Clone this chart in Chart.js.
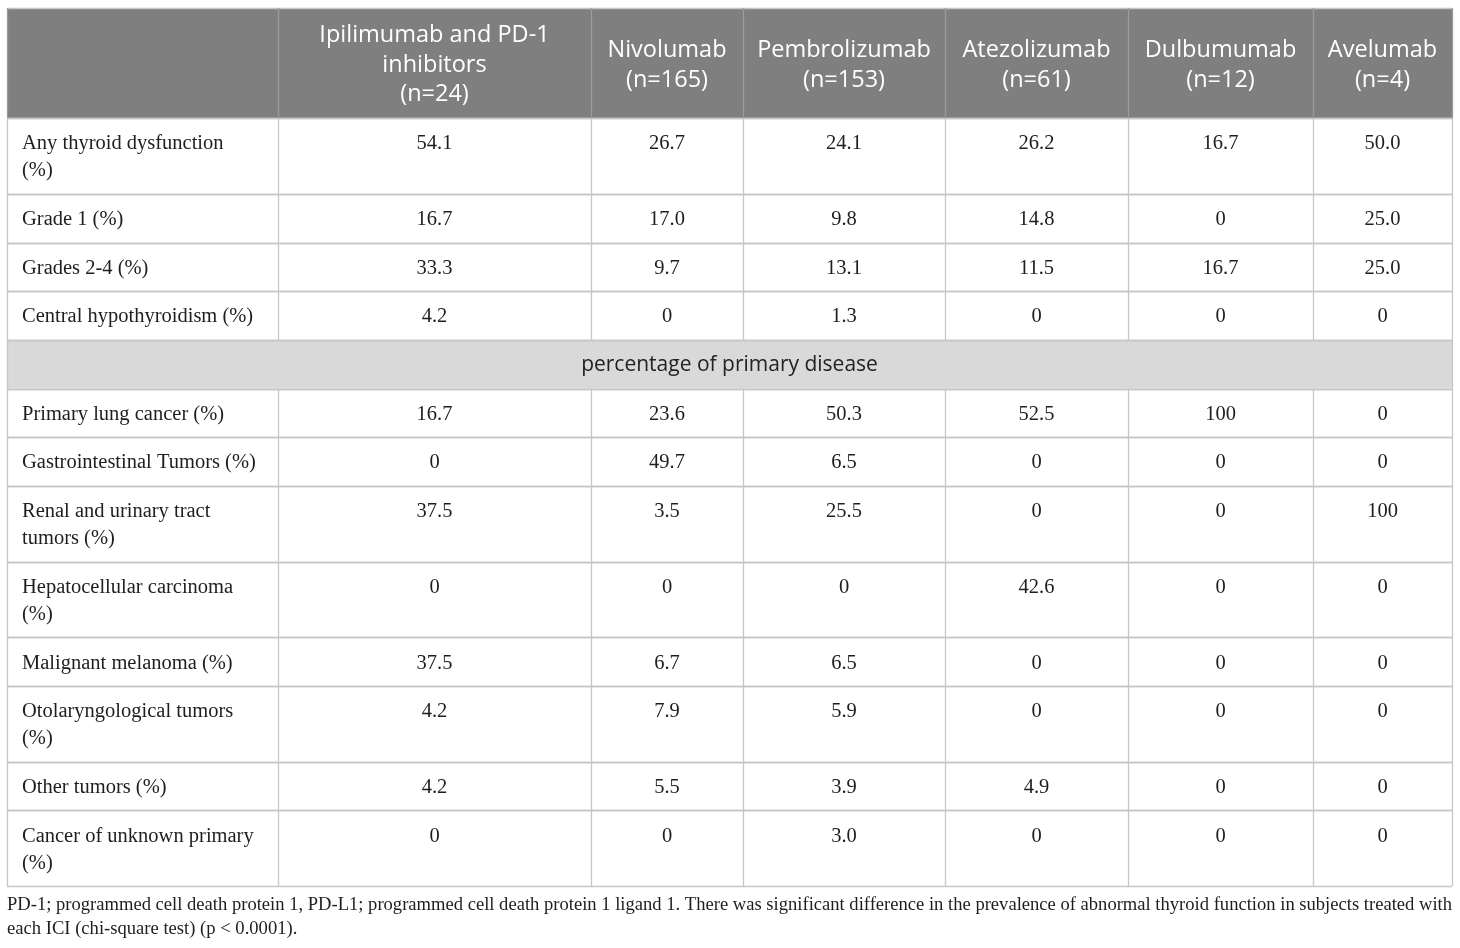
<!DOCTYPE html>
<html>
<head>
<meta charset="utf-8">
<script src="https://cdn.jsdelivr.net/npm/chart.js@4/dist/chart.umd.min.js"></script>
<style>
  html, body { margin: 0; padding: 0; background: #fff; }
  #wrap { width: 1460px; height: 948px; position: relative; }
</style>
</head>
<body>
<div id="wrap"><canvas id="tbl"></canvas></div>
<script>
// 表头（每列药物）
const COLUMNS = [
  '',
  'Ipilimumab and PD-1\ninhibitors\n(n=24)',
  'Nivolumab\n(n=165)',
  'Pembrolizumab\n(n=153)',
  'Atezolizumab\n(n=61)',
  'Dulbumumab\n(n=12)',
  'Avelumab\n(n=4)'
];

// 行标签
const THYROID_ROWS = [
  'Any thyroid dysfunction\n(%)',
  'Grade 1 (%)',
  'Grades 2-4 (%)',
  'Central hypothyroidism (%)'
];
const SECTION_TITLE = 'percentage of primary disease';
const DISEASE_ROWS = [
  'Primary lung cancer (%)',
  'Gastrointestinal Tumors (%)',
  'Renal and urinary tract\ntumors (%)',
  'Hepatocellular carcinoma\n(%)',
  'Malignant melanoma (%)',
  'Otolaryngological tumors\n(%)',
  'Other tumors (%)',
  'Cancer of unknown primary\n(%)'
];

// 各药物数值（前4项甲状腺，后8项原发病）
const IPI_PD1 = [54.1, 16.7, 33.3, 4.2, 16.7, 0, 37.5, 0, 37.5, 4.2, 4.2, 0];
const NIVOLUMAB = [26.7, 17.0, 9.7, 0, 23.6, 49.7, 3.5, 0, 6.7, 7.9, 5.5, 0];
const PEMBROLIZUMAB = [24.1, 9.8, 13.1, 1.3, 50.3, 6.5, 25.5, 0, 6.5, 5.9, 3.9, 3.0];
const ATEZOLIZUMAB = [26.2, 14.8, 11.5, 0, 52.5, 0, 0, 42.6, 0, 0, 4.9, 0];
const DULBUMUMAB = [16.7, 0, 16.7, 0, 100, 0, 0, 0, 0, 0, 0, 0];
const AVELUMAB = [50.0, 25.0, 25.0, 0, 0, 0, 100, 0, 0, 0, 0, 0];
const SERIES = [IPI_PD1, NIVOLUMAB, PEMBROLIZUMAB, ATEZOLIZUMAB, DULBUMUMAB, AVELUMAB];

const FOOTNOTE = [
  'PD-1; programmed cell death protein 1, PD-L1; programmed cell death protein 1 ligand 1. There was significant difference in the prevalence of abnormal thyroid function in subjects treated with',
  'each ICI (chi-square test) (p < 0.0001).'
];

// 样式
const COL_WIDTHS = [271, 313, 152, 202, 183, 185, 139];
const PAD = 21.6, BODY_LH = 27, HEAD_LH = 29.5;
const HEAD_FONT = '23.5px "Open Sans"';
const SECTION_FONT = '21px "Open Sans"';
const BODY_FONT = '20.5px "Liberation Serif"';
const FOOT_FONT = '18.6px "Liberation Serif"';

const fmt = v => (v === 0 || v === 100) ? String(v) : v.toFixed(1);
const nLines = s => s.split('\n').length;

// 行布局：表头、甲状腺行、分节行、原发病行
const rows = [{ type: 'head', h: PAD + HEAD_LH * 3 }];
THYROID_ROWS.forEach((t, i) => rows.push({ type: 'body', label: t, idx: i, h: PAD + BODY_LH * nLines(t) }));
rows.push({ type: 'section', label: SECTION_TITLE, h: PAD + BODY_LH });
DISEASE_ROWS.forEach((t, i) => rows.push({ type: 'body', label: t, idx: THYROID_ROWS.length + i, h: PAD + BODY_LH * nLines(t) }));
let acc = 0;
rows.forEach(r => { r.top = acc; acc += r.h; r.bottom = acc; });
const TOTAL_H = acc;

const colEdges = [0];
COL_WIDTHS.forEach(w => colEdges.push(colEdges[colEdges.length - 1] + w));
const TOTAL_W = colEdges[colEdges.length - 1];
const colCenter = c => (colEdges[c] + colEdges[c + 1]) / 2;
const bodyRows = rows.filter(r => r.type === 'body');

// 每列数值作为一个数据集
const datasets = SERIES.map((vals, si) => ({
  label: COLUMNS[si + 1],
  data: bodyRows.map(r => ({ x: colCenter(si + 1), y: r.top + PAD / 2 + BODY_LH / 2, text: fmt(vals[r.idx]) })),
  pointRadius: 0,
  align: 'center'
}));
// 行标签数据集
datasets.unshift({
  label: 'rows',
  data: bodyRows.map(r => ({ x: colEdges[0], y: r.top + PAD / 2 + BODY_LH / 2, text: r.label })),
  pointRadius: 0,
  align: 'left'
});

const tablePlugin = {
  id: 'tablePlugin',
  beforeDatasetsDraw(chart) {
    const { ctx, scales: { x, y } } = chart;
    const L = x.getPixelForValue(0), R = x.getPixelForValue(TOTAL_W);
    ctx.save();
    rows.forEach(r => {
      const t = y.getPixelForValue(r.top), b = y.getPixelForValue(r.bottom);
      if (r.type === 'head') { ctx.fillStyle = '#7f7f7f'; ctx.fillRect(L, t, R - L, b - t); }
      if (r.type === 'section') { ctx.fillStyle = '#d9d9d9'; ctx.fillRect(L, t, R - L, b - t); }
    });
    ctx.lineWidth = 1.3;
    // 横线
    ctx.strokeStyle = '#c6c6c6';
    rows.forEach(r => {
      [r.top, r.bottom].forEach(v => {
        const py = Math.round(y.getPixelForValue(v)) + 0.5;
        ctx.beginPath(); ctx.moveTo(L, py); ctx.lineTo(R, py); ctx.stroke();
      });
    });
    // 竖线
    rows.forEach(r => {
      const t = y.getPixelForValue(r.top), b = y.getPixelForValue(r.bottom);
      const edges = r.type === 'section' ? [colEdges[0], TOTAL_W] : colEdges;
      ctx.strokeStyle = r.type === 'head' ? '#9c9c9c' : '#c6c6c6';
      edges.forEach(e => {
        const px = Math.round(x.getPixelForValue(e)) + 0.5;
        ctx.beginPath(); ctx.moveTo(px, t); ctx.lineTo(px, b); ctx.stroke();
      });
    });
    // 表头文字
    const head = rows[0];
    const hc = y.getPixelForValue((head.top + head.bottom) / 2) + 2;
    ctx.fillStyle = '#ffffff';
    ctx.font = HEAD_FONT;
    ctx.textAlign = 'center';
    ctx.textBaseline = 'middle';
    COLUMNS.forEach((c, ci) => {
      const lines = c.split('\n');
      const px = x.getPixelForValue(colCenter(ci));
      lines.forEach((ln, li) => ctx.fillText(ln, px, hc + (li - (lines.length - 1) / 2) * HEAD_LH));
    });
    // 分节标题
    const sec = rows.find(r => r.type === 'section');
    ctx.fillStyle = '#222222';
    ctx.font = SECTION_FONT;
    ctx.fillText(sec.label, x.getPixelForValue(TOTAL_W / 2), y.getPixelForValue((sec.top + sec.bottom) / 2) + 1);
    ctx.restore();
  },
  afterDatasetsDraw(chart) {
    const { ctx } = chart;
    ctx.save();
    ctx.font = BODY_FONT;
    ctx.fillStyle = '#1e1e1e';
    ctx.textBaseline = 'middle';
    chart.data.datasets.forEach((ds, di) => {
      const meta = chart.getDatasetMeta(di);
      ctx.textAlign = ds.align;
      meta.data.forEach((el, i) => {
        const lines = ds.data[i].text.split('\n');
        const px = ds.align === 'left' ? el.x + 15 : el.x;
        lines.forEach((ln, li) => ctx.fillText(ln, px, el.y + 1.5 + li * BODY_LH));
      });
    });
    ctx.restore();
  },
  afterDraw(chart) {
    const { ctx, chartArea } = chart;
    ctx.save();
    ctx.font = FOOT_FONT;
    ctx.fillStyle = '#1e1e1e';
    ctx.textAlign = 'left';
    ctx.textBaseline = 'middle';
    FOOTNOTE.forEach((ln, i) => ctx.fillText(ln, chartArea.left, chartArea.bottom + 19 + i * 24, chartArea.width));
    ctx.restore();
  }
};

new Chart(document.getElementById('tbl'), {
  type: 'scatter',
  data: { datasets },
  options: {
    responsive: true,
    maintainAspectRatio: false,
    animation: false,
    layout: { padding: { left: 7, right: 8, top: 8, bottom: 62 } },
    scales: {
      x: { type: 'linear', display: false, min: 0, max: TOTAL_W },
      y: { type: 'linear', display: false, min: 0, max: TOTAL_H, reverse: true }
    },
    plugins: { legend: { display: false }, tooltip: { enabled: false } }
  },
  plugins: [tablePlugin]
});
</script>
</body>
</html>
